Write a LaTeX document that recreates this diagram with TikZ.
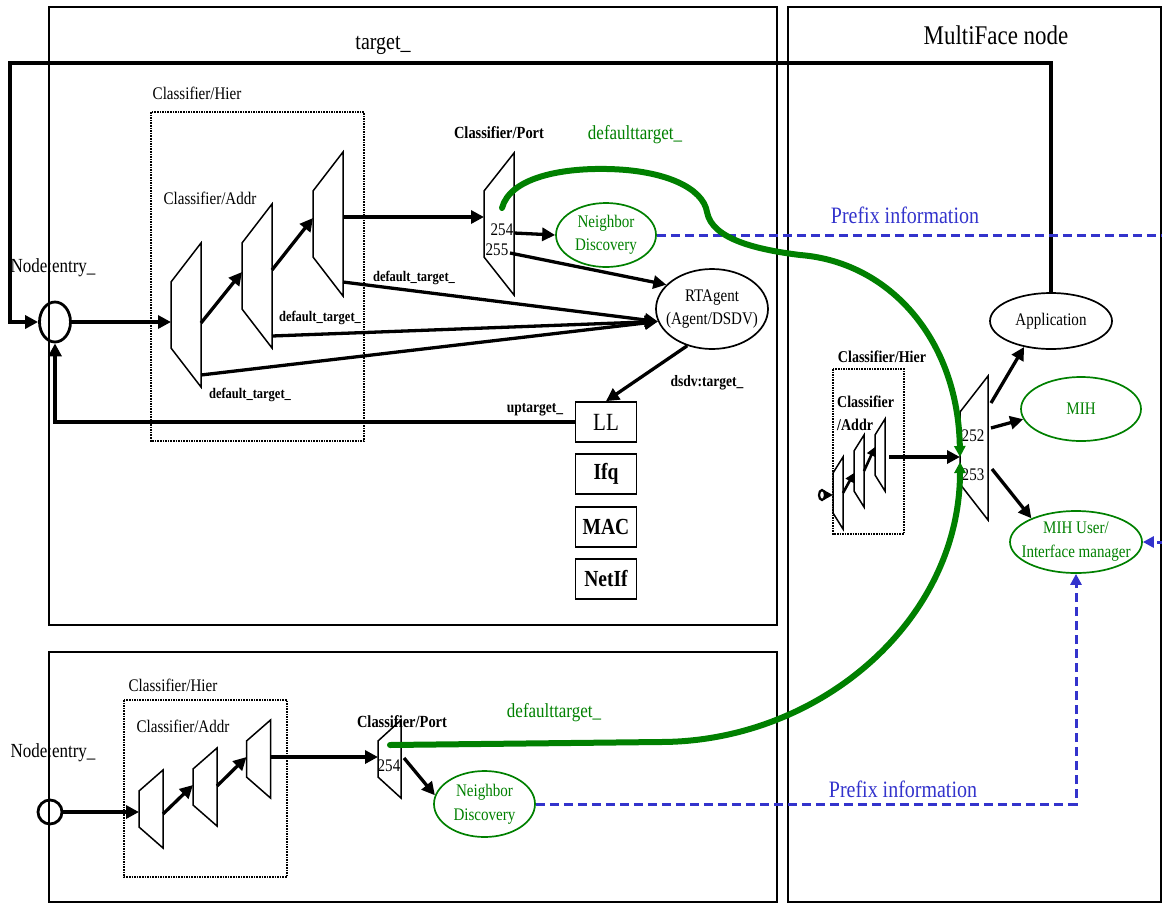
\documentclass[tikz,border=0pt]{standalone}
\usepackage{fontspec}
\setmainfont{Liberation Serif}[FakeStretch=0.85]
\usetikzlibrary{arrows.meta,shapes.geometric,calc}
\definecolor{ndgreen}{RGB}{0,128,0}
\definecolor{pfblue}{RGB}{51,51,204}
\newcommand\fsz[2]{\fontsize{#1}{#2}\selectfont}
% classifier symbol: name, centre x, centre y, width, half height left, half height right
\newcommand\clsf[6]{%
  \draw[trapline] ({#2-#4/2},{#3-#5}) -- ({#2+#4/2},{#3-#6}) -- ({#2+#4/2},{#3+#6}) -- ({#2-#4/2},{#3+#5}) -- cycle;
  \coordinate (#1) at (#2,#3);
  \coordinate (#1-w) at ({#2-#4/2},#3);
  \coordinate (#1-e) at ({#2+#4/2},#3);
}
\begin{document}
\begin{tikzpicture}[x=1pt,y=-1pt,
  frame/.style={draw,line width=1.5pt},
  dotbox/.style={draw,line width=1.6pt,densely dotted},
  trapline/.style={draw,line width=1.5pt,line join=miter},
  arr/.style={line width=3.3pt,-{Triangle[length=13pt,width=13pt]}},
  arrs/.style={line width=2.6pt,-{Triangle[length=9pt,width=9pt]}},
  gcurve/.style={draw=ndgreen,line width=6pt,line cap=round,-{Triangle[length=11pt,width=11pt]}},
  pf/.style={draw=pfblue,line width=3pt,dash pattern=on 9pt off 5pt,-{Triangle[length=11pt,width=11pt]}},
  lbl/.style={inner sep=0,font=\fsz{17.7}{20}},
  lblb/.style={inner sep=0,font=\fsz{17}{20}\bfseries},
  small/.style={inner sep=0,font=\fsz{14.7}{17}\bfseries},
  ellshape/.style={ellipse,draw,line width=1.7pt,inner sep=0},
  gellshape/.style={ellshape,draw=ndgreen},
  etext/.style={inner sep=0,align=center,font=\fsz{17.7}{23}},
  getext/.style={etext,text=ndgreen},
  layer/.style={draw,line width=1.7pt,minimum width=61pt,minimum height=40pt,inner sep=0,font=\fsz{23}{26}\bfseries},
  pftext/.style={inner sep=0,text=pfblue,font=\fsz{23.5}{27}},
  gtext/.style={inner sep=0,text=ndgreen,font=\fsz{20}{23}}
]
\useasboundingbox (0,0) rectangle (1162,903);
\clip (0,0) rectangle (1162,903);

% outer frames
\draw[frame] (49,7) rectangle (777,625);
\draw[frame] (49,652) rectangle (777,902);
\draw[frame] (788,7) rectangle (1161,902);
\node[inner sep=0,font=\fsz{27}{30}] (mfn) at (996,35) {MultiFace node};
\node[inner sep=0,font=\fsz{23.5}{27}] (tgt) at (383,45) {target\_};

% ---------------- upper mobile node ----------------
\node[draw,ellipse,line width=2.8pt,minimum width=31pt,minimum height=40pt,inner sep=0] (e1) at (55,322) {};
\node[inner sep=0,font=\fsz{20}{23}] (e1t) at (53,268) {Node:entry\_};
\draw[dotbox] (151,112) rectangle (364,441);
\node[lbl] (h1t) at (197,93) {Classifier/Hier};
\node[lbl] (a1t) at (210,198) {Classifier/Addr};
\clsf{a1}{186}{315}{30}{33}{72}
\clsf{a2}{257}{276}{30}{33}{72}
\clsf{a3}{328}{224}{30}{33}{72}
\clsf{p1}{499}{224}{30}{33}{71}
\node[lblb] (p1t) at (499,133) {Classifier/Port};
\node[lbl] (p1a) at (502,230) {254};
\node[lbl] (p1b) at (497,250) {255};
\node[gellshape,minimum width=100pt,minimum height=64pt] (nd1) at (606,235) {};
\node[getext] (nd1t) at (nd1) {Neighbor\\Discovery};
\node[ellshape,minimum width=112pt,minimum height=80pt] (rta) at (712,309) {};
\node[etext] (rtat) at (rta) {RTAgent\\(Agent/DSDV)};
\node[layer,font=\fsz{24.7}{27}] (ll) at (606,422) {LL};
\node[layer] (ifq) at (606,474) {Ifq};
\node[layer] (mac) at (606,527) {MAC};
\node[layer] (nif) at (606,579) {NetIf};

\node[small] (d3) at (414,278) {default\_target\_};
\node[small] (d2) at (320,318) {default\_target\_};
\node[small] (d1) at (250,395) {default\_target\_};
\node[small,font=\fsz{15.9}{18}\bfseries] (dsdv) at (707,383) {dsdv:target\_};
\node[small,font=\fsz{15.9}{18}\bfseries] (upt) at (535,410) {uptarget\_};

\coordinate (tgtR) at (1051,63);
\coordinate (tgtL) at (10,63);
\coordinate (tgtB) at (10,322);
\coordinate (upc) at (55,422);

\draw[arr] (e1.east) -- (e1.east -| a1-w);
\draw[arr] ($(a1-e)+(0,8)$) -- ($(a2-w)+(0,-4)$);
\draw[arr] ($(a2-e)+(0,-6)$) -- ($(a3-w)+(0,-6)$);
\draw[arr] ($(a3-e)+(0,-7)$) -- ($(p1-w)+(0,-7)$);
\draw[arr] ($(a3-e)+(0,58)$) -- (rta.193);
\draw[arr] ($(a2-e)+(0,60)$) -- (rta.193);
\draw[arr] ($(a1-e)+(0,60)$) -- (rta.193);
\draw[arr] ($(p1-e)+(0,9)$) -- (nd1.west);
\draw[arr] ($(p1-e)+(-4,29)$) -- (rta.152);
\draw[arr] (rta.236) -- (ll.north);
\draw[arr] (ll.west) -- (upc) -- (e1.south);

% ---------------- MultiFace node ----------------
\node[ellshape,minimum width=122pt,minimum height=56pt] (app) at (1051,321) {};
\node[etext] (appt) at (app) {Application};
\node[gellshape,minimum width=120pt,minimum height=64pt] (mih) at (1081,409) {};
\node[getext] (miht) at (mih) {MIH};
\node[gellshape,minimum width=132pt,minimum height=62pt] (mihu) at (1076,542) {};
\node[getext,font=\fsz{17.7}{24}] (mihut) at (mihu) {MIH User/\\Interface manager};
\clsf{m}{974}{448}{28}{36}{72}
\node[lbl] (m252) at (973,436) {252};
\node[lbl] (m253) at (973,475) {253};

\draw[dotbox] (833,369) rectangle (904,534);
\node[inner sep=0,font=\fsz{16.5}{19}\bfseries] (h3t) at (882,357) {Classifier/Hier};
\node[inner sep=0,anchor=west,align=left,font=\fsz{16.5}{23}\bfseries] (a3t) at (837,413) {Classifier\\/Addr};
\clsf{s1}{838}{493}{10}{20}{36}
\clsf{s2}{859}{471}{10}{20}{36}
\clsf{s3}{880}{455}{10}{20}{36}
\node[draw,ellipse,line width=2.2pt,minimum width=6pt,minimum height=10pt,inner sep=0] (e3) at (822,495) {};

\draw[arr] (app.north) -- (tgtR) -- (tgtL) -- (tgtB) -- (e1.west);
\draw[arrs] (e3.east) -- (e3.east -| s1-w);
\draw[arrs] (s1-e) -- ($(s2-w)+(0,2)$);
\draw[arrs] (s2-e) -- ($(s3-w)+(0,-8)$);
\draw[arr] ($(s3-e)+(4,2)$) -- ($(m-w)+(0,9)$);
\draw[arr] ($(m-e)+(3,-45)$) -- (app.224);
\draw[arr] ($(m-e)+(3,-20)$) -- (mih.190);
\draw[arr] ($(m-e)+(4,21)$) -- (mihu.152);

% ---------------- lower node ----------------
\node[inner sep=0,font=\fsz{20}{23}] (e2t) at (53,753) {Node:entry\_};
\node[circle,draw,line width=2.8pt,minimum size=24pt,inner sep=0] (e2) at (50,812) {};
\draw[dotbox] (124,700) rectangle (287,877);
\node[lbl] (h2t) at (173,685) {Classifier/Hier};
\node[lbl] (a2t) at (183,726) {Classifier/Addr};
\clsf{b1}{151}{809}{24}{18}{39}
\clsf{b2}{205}{787}{24}{18}{39}
\clsf{b3}{258.5}{759}{24}{18}{39}
\clsf{p2}{389.5}{759}{23}{18}{39}
\node[lblb] (p2t) at (402,722) {Classifier/Port};
\node[lbl] (p2a) at (389,766) {254};
\node[gellshape,minimum width=101pt,minimum height=66pt] (nd2) at (484.5,804) {};
\node[getext,font=\fsz{17.7}{24}] (nd2t) at (nd2) {Neighbor\\Discovery};

\draw[arr] (e2.east) -- (e2.east -| b1-w);
\draw[arr] ($(b1-e)+(0,5)$) -- ($(b2-w)+(0,-2)$);
\draw[arr] ($(b2-e)+(0,-1)$) -- ($(b3-w)+(0,-2)$);
\draw[arr] ($(b3-e)+(0,-2)$) -- ($(p2-w)+(0,-2)$);
\draw[arr] ($(p2-e)+(3,-1)$) -- (nd2.170);

% prefix information paths
\coordinate (pfa) at (1185,235);
\coordinate (pfb) at (1185,542);
\coordinate (pfc) at (nd2.east -| mihu.south);
\draw[pf] (nd1.east) -- (pfa) -- (pfb) -- (mihu.east);
\draw[pf] (nd2.east) -- (pfc) -- (mihu.south);
\node[pftext] (pf1) at (905,215) {Prefix information};
\node[pftext] (pf2) at (903,789) {Prefix information};

% default targets towards the MultiFace node
\draw[gcurve] ($(p1)+(3,-16)$) .. controls (510,178) and (560,168) .. (607,169)
  .. controls (665,170) and (703,188) .. (707,212)
  .. controls (712,240) and (760,250) .. (800,255)
  .. controls (890,262) and (958,340) .. ($(m-w)+(0,9)$);
\draw[gcurve] ($(p2)+(0.5,-14)$) -- (660,742) .. controls (820,742) and (960,620) .. ($(m-w)+(0,14)$);
\node[gtext] (g1) at (635,135) {defaulttarget\_};
\node[gtext] (g2) at (554,713) {defaulttarget\_};
\end{tikzpicture}
\end{document}
